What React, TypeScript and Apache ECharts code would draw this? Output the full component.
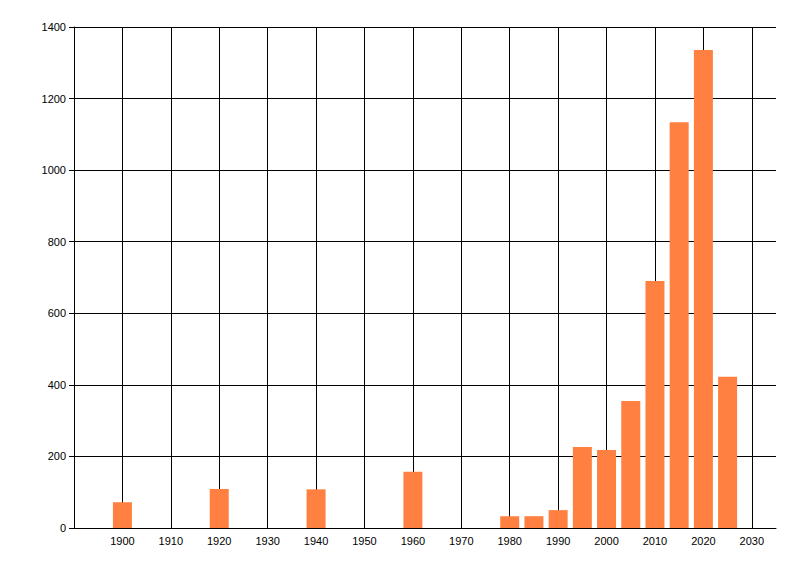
import React, { useEffect, useRef } from "react";
import * as echarts from "echarts";

const years = [1900, 1920, 1940, 1960, 1980, 1985, 1990, 1995, 2000, 2005, 2010, 2015, 2020, 2025];
const counts = [72, 109, 108, 157, 33, 33, 50, 226, 218, 355, 690, 1134, 1336, 423];

const App = () => {
  const chartRef = useRef<HTMLDivElement>(null);

  useEffect(() => {
    if (!chartRef.current) return;
    const chart = echarts.init(chartRef.current, null, { renderer: "svg" });

    const font = { fontFamily: "Liberation Sans", fontSize: 11, color: "#000" };

    const option: echarts.EChartsCoreOption = {
      animation: false,
      backgroundColor: "#fff",
      grid: { left: 74, right: 24, top: 27, bottom: 48 },
      xAxis: {
        type: "value",
        min: 1890,
        max: 2035,
        interval: 10,
        axisLine: { show: true, lineStyle: { color: "#000", width: 1 } },
        axisTick: { show: false },
        axisLabel: {
          ...font,
          margin: 7,
          formatter: (v: number) => (v < 1900 || v % 10 !== 0 ? "" : String(v)),
        },
        splitLine: { show: true, showMaxLine: false, lineStyle: { color: "#000", width: 1 } },
      },
      yAxis: {
        type: "value",
        min: 0,
        max: 1400,
        interval: 200,
        axisLine: { show: true, lineStyle: { color: "#000", width: 1 } },
        axisTick: { show: true, length: 5, lineStyle: { color: "#000" } },
        axisLabel: { ...font, margin: 8, formatter: (v: number) => String(v) },
        splitLine: { show: true, lineStyle: { color: "#000", width: 1 } },
      },
      series: [
        {
          type: "bar",
          barWidth: 19,
          itemStyle: { color: "#ff8040" },
          data: years.map((y, i) => [y, counts[i]]),
        },
      ],
    };

    chart.setOption(option);
    return () => chart.dispose();
  }, []);

  return (
    <div
      ref={chartRef}
      style={{ position: "fixed", left: 0, top: 0, width: 800, height: 576 }}
    />
  );
};

export default App;
